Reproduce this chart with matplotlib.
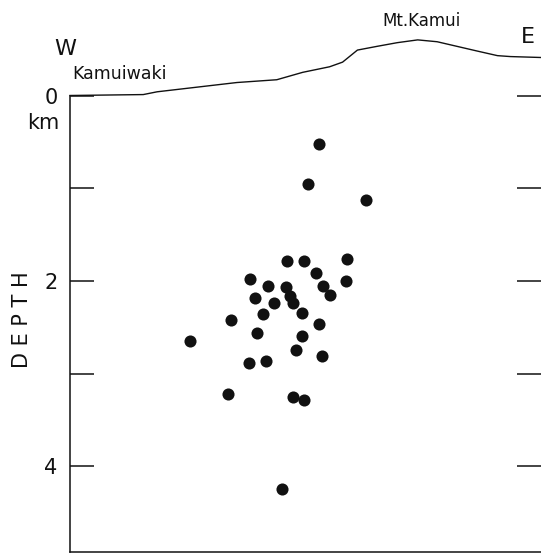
import matplotlib
matplotlib.use("Agg")
import matplotlib.pyplot as plt

# Topographic profile (horizontal distance km, elevation as negative depth km)
topo_x = [0.0, 0.79, 0.94, 1.37, 1.80, 2.23, 2.51, 2.80, 2.94, 3.10, 3.31, 3.53, 3.75,
          3.96, 4.39, 4.61, 4.75, 5.08]
topo_d = [0.0, -0.01, -0.04, -0.09, -0.14, -0.17, -0.25, -0.31, -0.36, -0.49, -0.53,
          -0.57, -0.60, -0.58, -0.48, -0.43, -0.42, -0.41]

# Hypocenters (horizontal distance km, depth km)
eq_x = [2.69, 2.57, 3.19, 2.34, 2.52, 2.99, 2.65, 2.98, 1.94, 2.14, 2.33, 2.73, 2.80,
        2.00, 2.20, 2.37, 2.41, 2.50, 2.08, 1.74, 2.69, 2.02, 2.50, 1.29, 2.44, 2.72,
        2.11, 1.93, 1.70, 2.40, 2.52, 2.29]
eq_d = [0.52, 0.95, 1.13, 1.79, 1.79, 1.76, 1.91, 2.00, 1.98, 2.05, 2.07, 2.06, 2.15,
        2.19, 2.24, 2.16, 2.24, 2.35, 2.36, 2.42, 2.47, 2.56, 2.59, 2.65, 2.75, 2.81,
        2.86, 2.89, 3.22, 3.25, 3.28, 4.25]

depth_ticks = [0, 1, 2, 3, 4]
depth_labels = ["0", "", "2", "", "4"]

fig = plt.figure(figsize=(5.41, 5.53), dpi=100)
ax = fig.add_axes([70/541, 1/553, 471/541, (552-95.5)/553])
ax.set_xlim(0, 5.08)
ax.set_ylim(4.925, 0)

ink = "#111111"
ax.plot(eq_x, eq_d, "o", color=ink, markersize=8.7, markeredgewidth=0)
ax.plot(topo_x, topo_d, color=ink, linewidth=1.0, clip_on=False)

for s in ["top", "right"]:
    ax.spines[s].set_visible(False)
for s in ["left", "bottom"]:
    ax.spines[s].set_linewidth(1.1)
    ax.spines[s].set_color(ink)

ax.set_xticks([])
ax.set_yticks(depth_ticks)
ax.set_yticklabels(depth_labels)
ax.tick_params(axis="y", direction="in", length=17.5, width=1.1, color=ink,
               labelsize=15, pad=9, right=True, labelcolor=ink)

ax.text(-0.29, 0.30, "km", fontsize=15, ha="center", va="center", color=ink)
fig.text(22/541, 1 - 320/553, "D E P T H", rotation=90, fontsize=15,
         ha="center", va="center", color=ink)
fig.text(65.5/541, 1 - 49.5/553, "W", fontsize=16, ha="center", va="center", color=ink)
fig.text(528/541, 1 - 37/553, "E", fontsize=16, ha="center", va="center", color=ink)
fig.text(72/541, 1 - 74/553, "Kamuiwaki", fontsize=12.5, ha="left", va="center", color=ink)
fig.text(421/541, 1 - 21/553, "Mt.Kamui", fontsize=12, ha="center", va="center", color=ink)

fig.savefig("out.png", dpi=100)
